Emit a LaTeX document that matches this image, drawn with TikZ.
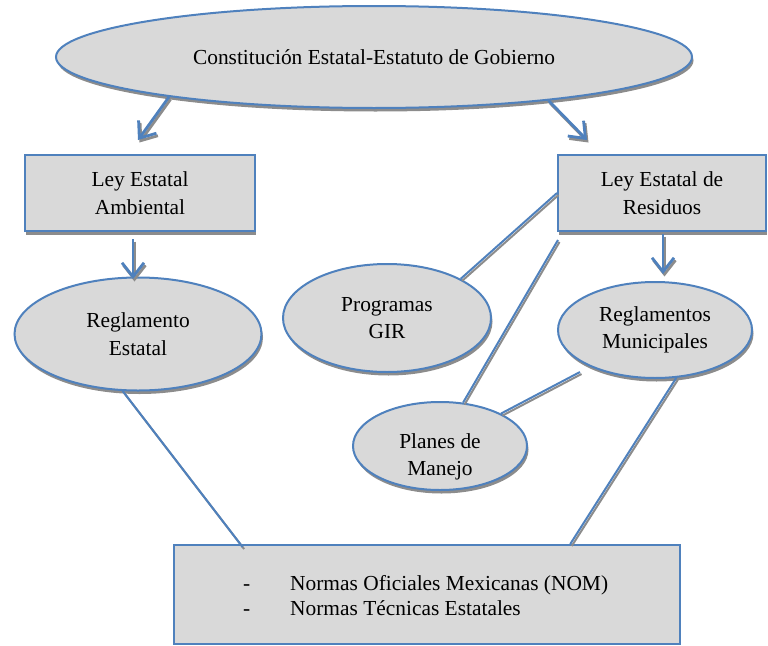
\documentclass[tikz,border=0pt]{standalone}
\usepackage{fontspec}
\setmainfont{Liberation Serif}
\usetikzlibrary{arrows.meta,shapes.geometric,shadows,calc}
\definecolor{bl}{HTML}{4F81BD}
\definecolor{fl}{HTML}{D9D9D9}
\definecolor{sh}{HTML}{8C8C8C}
\begin{document}
\begin{tikzpicture}[x=1pt,y=-1pt,
  txt/.style={align=center,font=\fontsize{21.4}{27.5}\selectfont,inner sep=0pt},
  ell/.style={ellipse,draw=bl,line width=2pt,fill=fl,inner sep=0pt,
    txt,drop shadow={shadow xshift=1.5pt,shadow yshift=-3.5pt,fill=sh,opacity=1}},
  boxa/.style={rectangle,draw=bl,line width=2pt,fill=fl,inner sep=0pt,
    txt,drop shadow={shadow xshift=1pt,shadow yshift=-4pt,fill=sh,opacity=1}},
  boxb/.style={rectangle,draw=bl,line width=2pt,fill=fl,inner sep=0pt},
  lnk/.style={draw=bl,line width=2pt,
    preaction={draw=sh,line width=2pt,transform canvas={shift={(1.5pt,-2pt)}}}},
  arr/.style={draw=bl,line width=2.8pt,-{Straight Barb[length=14pt,width=22pt]},
    preaction={draw=sh,line width=2.8pt,-{Straight Barb[length=14pt,width=22pt]},
      transform canvas={shift={(1.5pt,-2.5pt)}}}}
]
\useasboundingbox (0,0) rectangle (768,645);

% nodes
\node[ell,minimum width=636pt,minimum height=102pt] (top) at (374,57)
  {Constitución Estatal-Estatuto de Gobierno};
\node[boxa,minimum width=230pt,minimum height=76pt] (lea) at (140,193)
  {Ley Estatal\\Ambiental};
\node[boxa,minimum width=208pt,minimum height=76pt] (ler) at (662,193)
  {Ley Estatal de\\Residuos};
\node[ell,minimum width=247pt,minimum height=113pt] (re) at (138,334)
  {Reglamento\\Estatal};
\node[ell,minimum width=208pt,minimum height=108pt] (gir) at (387,318)
  {Programas\\GIR};
\node[ell,minimum width=194pt,minimum height=96pt] (rm) at (655,330)
  {Reglamentos\\Municipales};
\node[ell,minimum width=174pt,minimum height=88pt] (pm) at (440,446) {};
\node[txt] (pmt) at (440,457) {Planes de\\Manejo};
\node[boxb,minimum width=506pt,minimum height=99pt] (nb) at (427,594.5) {};
\node[txt,anchor=base west] (d1) at (243,590) {-};
\node[txt,anchor=base west] (n1) at (290,590) {Normas Oficiales Mexicanas (NOM)};
\node[txt,anchor=base west] (d2) at (243,615) {-};
\node[txt,anchor=base west] (n2) at (290,615) {Normas Técnicas Estatales};

% free ends
\coordinate (t1) at (138,140);
\coordinate (t2) at (587,140);
\coordinate (a1s) at ($(lea.south)+(-7,7)$);
\coordinate (a1e) at ($(lea.south)+(-7,47)$);
\coordinate (a2s) at ($(ler.south)+(1,2)$);
\coordinate (a2e) at ($(ler.south)+(1,42)$);
\coordinate (c1) at (558,240);
\coordinate (c2) at (580,372);

% arrows
\draw[arr] (top.191) -- (t1);
\draw[arr] (top.-14.5) -- (t2);
\draw[arr] (a1s) -- (a1e);
\draw[arr] (a2s) -- (a2e);

% lines
\draw[lnk] (ler.west) -- (gir.28);
\draw[lnk] (c1) -- (pm.62);
\draw[lnk] (c2) -- (pm.28);
\draw[lnk] (rm.-66) -- ($(nb.north west)!0.782!(nb.north east)$);
\draw[lnk] (re.-105) -- ($(nb.north west)!0.137!(nb.north east)+(0,3)$);
\end{tikzpicture}
\end{document}
